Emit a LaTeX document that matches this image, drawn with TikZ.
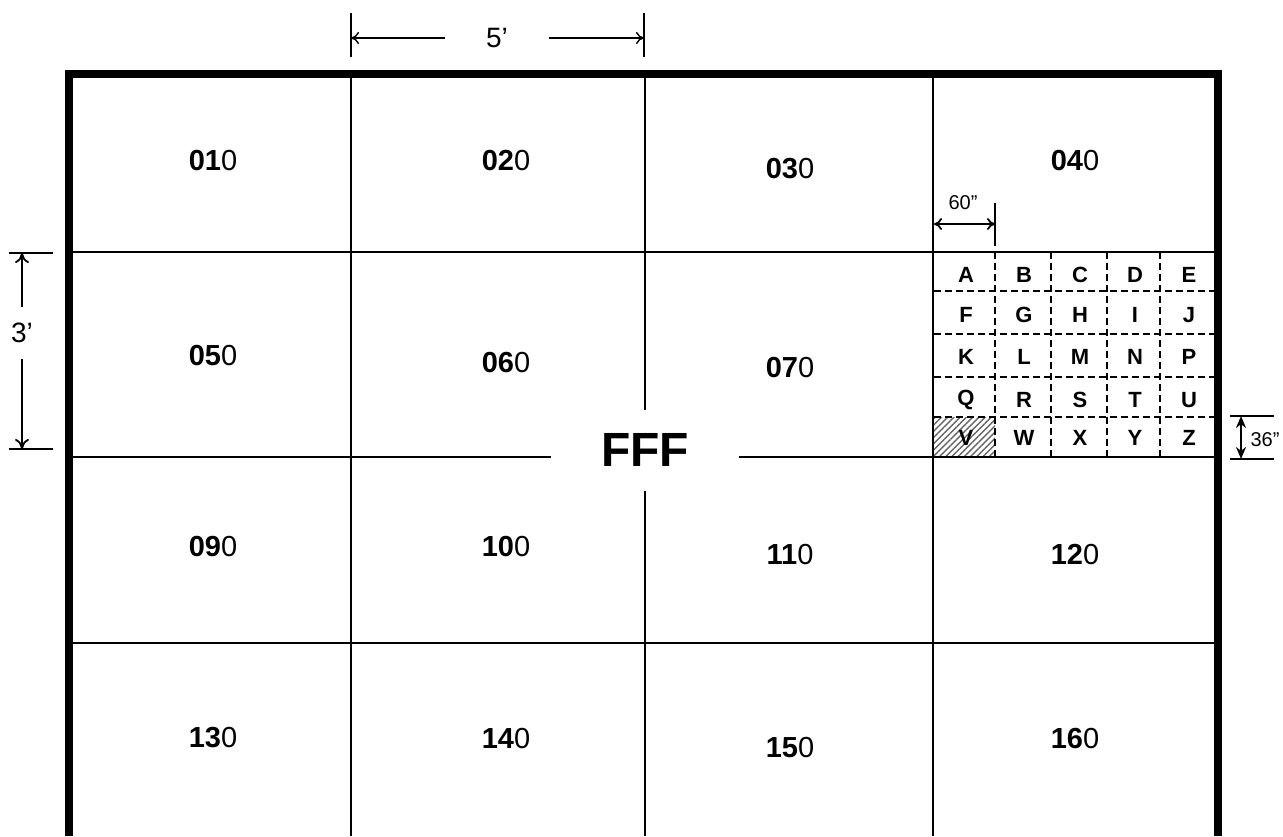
\documentclass[tikz,border=0pt]{standalone}
\usepackage{fontspec}
\setmainfont{Liberation Sans}
\usetikzlibrary{arrows.meta,patterns.meta}

\begin{document}
\begin{tikzpicture}[x=0.5pt, y=-0.5pt,
  frame/.style={line width=4pt, line join=miter},
  wall/.style={line width=1.1pt},
  sub/.style={line width=0.8pt, dash pattern=on 3.5pt off 2pt},
  cell/.style={font=\fontsize{14.5}{17}\selectfont, inner sep=0pt},
  letter/.style={font=\fontsize{11}{13}\selectfont\bfseries, inner sep=0pt},
  dim/.style={line width=0.7pt},
  dimarrow/.style={line width=0.9pt, -{To[length=5pt,width=7pt]}},
  dimtext/.style={font=\fontsize{14}{16}\selectfont, inner sep=0pt},
  smalltext/.style={font=\fontsize{10}{12}\selectfont, inner sep=0pt}]
 \useasboundingbox (0,0) rectangle (1283,836);

 \fill[pattern={Lines[angle=45, distance=2.2pt, line width=0.7pt]}, pattern color=gray!80!black] (934,417) rectangle (995,457);
 \foreach \x in {995,1051,1107,1160} \draw[sub] (\x,252) -- (\x,457);
 \foreach \y in {291,334,377,417} \draw[sub] (934,\y) -- (1214,\y);

 \foreach \x in {351,645,933} \draw[wall] (\x,74) -- (\x,836);
 \foreach \y in {252,457,643} \draw[wall] (69,\y) -- (1218,\y);
 \draw[frame] (69,836) -- (69,74) -- (1218,74) -- (1218,836);

 \node[cell] (c010) at (213,161) {\textbf{01}0};
 \node[cell] (c020) at (506,161) {\textbf{02}0};
 \node[cell] (c030) at (790,169) {\textbf{03}0};
 \node[cell] (c040) at (1075,161) {\textbf{04}0};
 \node[cell] (c050) at (213,356) {\textbf{05}0};
 \node[cell] (c060) at (506,363) {\textbf{06}0};
 \node[cell] (c070) at (790,368) {\textbf{07}0};
 \node[cell] (c090) at (213,547) {\textbf{09}0};
 \node[cell] (c100) at (506,547) {\textbf{10}0};
 \node[cell] (c110) at (790,555) {\textbf{11}0};
 \node[cell] (c120) at (1075,555) {\textbf{12}0};
 \node[cell] (c130) at (213,738) {\textbf{13}0};
 \node[cell] (c140) at (506,738) {\textbf{14}0};
 \node[cell] (c150) at (790,747) {\textbf{15}0};
 \node[cell] (c160) at (1075,738) {\textbf{16}0};

 \node[fill=white, minimum width=94pt, minimum height=40.5pt, font=\fontsize{24}{28}\selectfont\bfseries] (fff) at (645,450) {FFF};

 \foreach \a/\b/\c/\d/\e/\y in {A/B/C/D/E/275, F/G/H/I/J/315, K/L/M/N/P/357, Q/R/S/T/U/400, V/W/X/Y/Z/438} {
   \node[letter] (sq\a) at (966,\y) {\a};
   \node[letter] (sq\b) at (1024,\y) {\b};
   \node[letter] (sq\c) at (1080,\y) {\c};
   \node[letter] (sq\d) at (1135,\y) {\d};
   \node[letter] (sq\e) at (1189,\y) {\e};
 }

 \coordinate (fivel) at (351,38);
 \coordinate (fiver) at (644,38);
 \draw[dim] (351,13) -- (351,57);
 \draw[dim] (644,13) -- (644,57);
 \node[dimtext, minimum width=52pt] (five) at (497,38) {5’};
 \draw[dim, -{To[length=4pt,width=6pt]}] (five.west) -- (fivel);
 \draw[dim, -{To[length=4pt,width=6pt]}] (five.east) -- (fiver);

 \coordinate (threet) at (22,253);
 \coordinate (threeb) at (22,449);
 \draw[dim] (9,253) -- (53,253);
 \draw[dim] (9,449) -- (53,449);
 \node[dimtext, minimum height=25.5pt] (three) at (22,333) {3’};
 \draw[dimarrow] (three.north) -- (threet);
 \draw[dimarrow] (three.south) -- (threeb);

 \coordinate (sixtyl) at (934,224);
 \coordinate (sixtyr) at (995,224);
 \draw[dim] (995,203) -- (995,246);
 \draw[line width=0.9pt, {To[length=4pt,width=6pt]}-{To[length=4pt,width=6pt]}] (sixtyl) -- (sixtyr);
 \node[smalltext] (sixty) at (963,203) {60”};

 \coordinate (thirtysixt) at (1241,416);
 \coordinate (thirtysixb) at (1241,459);
 \draw[dim] (1230,416) -- (1274,416);
 \draw[dim] (1230,459) -- (1274,459);
 \draw[line width=1.2pt, {Stealth[length=6pt,width=5pt]}-{Stealth[length=6pt,width=5pt]}] (thirtysixt) -- (thirtysixb);
 \node[smalltext] (thirtysix) at (1265,440) {36”};
\end{tikzpicture}
\end{document}
